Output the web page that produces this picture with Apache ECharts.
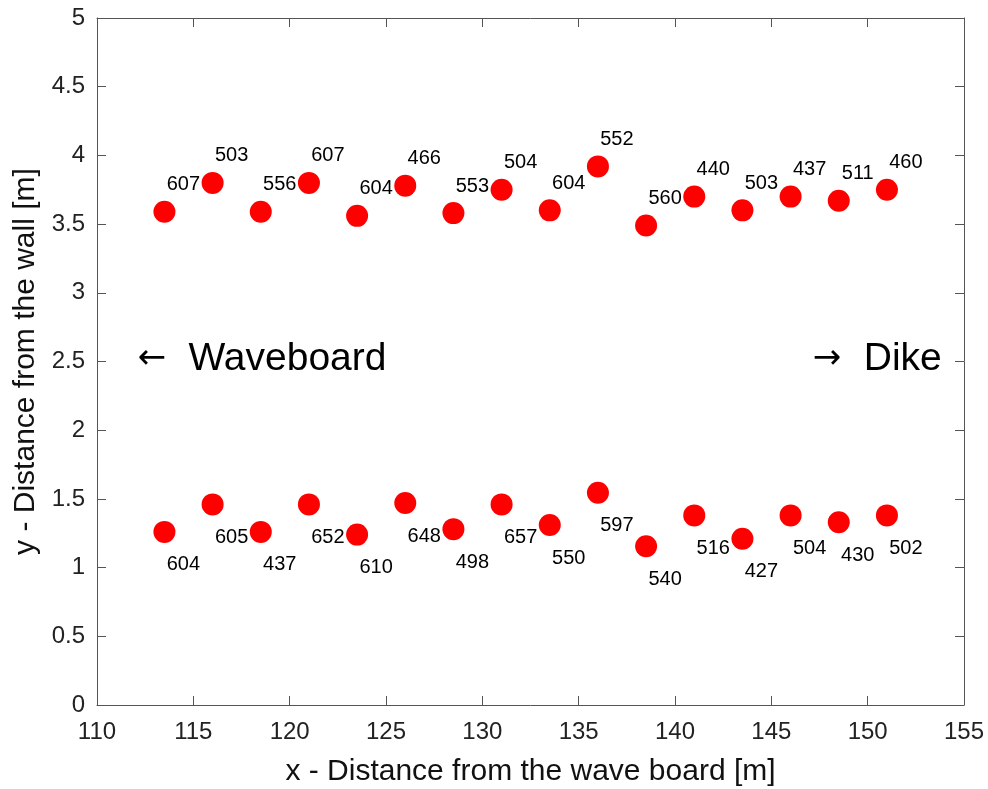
<!DOCTYPE html>
<html>
<head>
<meta charset="utf-8">
<script src="https://cdn.jsdelivr.net/npm/echarts@6/dist/echarts.min.js"></script>
<style>html,body{margin:0;padding:0;background:#fff;}#c{width:988px;height:789px;}</style>
</head>
<body>
<div id="c"></div>
<script>
var xPos = [113.5, 116, 118.5, 121, 123.5, 126, 128.5, 131, 133.5, 136, 138.5, 141, 143.5, 146, 148.5, 151];
var topY = [3.59, 3.80, 3.59, 3.80, 3.56, 3.78, 3.58, 3.75, 3.60, 3.92, 3.49, 3.70, 3.60, 3.70, 3.67, 3.75];
var topLabels = ['607', '503', '556', '607', '604', '466', '553', '504', '604', '552', '560', '440', '503', '437', '511', '460'];
var botY = [1.26, 1.46, 1.26, 1.46, 1.24, 1.47, 1.28, 1.46, 1.31, 1.545, 1.155, 1.38, 1.21, 1.38, 1.33, 1.38];
var botLabels = ['604', '605', '437', '652', '610', '648', '498', '657', '550', '597', '540', '516', '427', '504', '430', '502'];
var annotX = [112.1, 147.15];
var annotY = [2.52, 2.52];
var annotArrow = ['\u2190', '\u2192'];
var annotText = ['Waveboard', 'Dike'];

var FONT = 'Liberation Sans, Arial, sans-serif';
function pts(ys, labs) { return xPos.map(function (x, i) { return [x, ys[i], labs[i]]; }); }

var chart = echarts.init(document.getElementById('c'));
var axisCommon = {
  axisLine: { show: true, onZero: false, lineStyle: { color: '#555', width: 1 } },
  axisTick: { show: true, inside: true, length: 9, lineStyle: { color: '#555' } },
  splitLine: { show: false }
};
chart.setOption({
  animation: false,
  backgroundColor: '#fff',
  grid: { left: 97, right: 24, top: 18, bottom: 84, outerBoundsMode: 'none', containLabel: false },
  xAxis: [
    Object.assign({}, axisCommon, {
      type: 'value', min: 110, max: 155, interval: 5, position: 'bottom',
      axisLabel: { color: '#222', fontSize: 24, fontFamily: FONT, margin: 15 },
      name: 'x - Distance from the wave board [m]', nameLocation: 'middle', nameGap: 52,
      nameTextStyle: { color: '#111', fontSize: 30, fontFamily: FONT }
    }),
    Object.assign({}, axisCommon, {
      type: 'value', min: 110, max: 155, interval: 5, position: 'top', axisLabel: { show: false }
    })
  ],
  yAxis: [
    Object.assign({}, axisCommon, {
      type: 'value', min: 0, max: 5, interval: 0.5, position: 'left',
      axisLabel: { color: '#222', fontSize: 24, fontFamily: FONT, margin: 12 },
      name: 'y - Distance from the wall [m]', nameLocation: 'middle', nameGap: 50,
      nameTextStyle: { color: '#111', fontSize: 30, fontFamily: FONT }
    }),
    Object.assign({}, axisCommon, {
      type: 'value', min: 0, max: 5, interval: 0.5, position: 'right', axisLabel: { show: false }
    })
  ],
  series: [
    {
      type: 'scatter', data: pts(topY, topLabels), symbol: 'circle', symbolSize: 22,
      itemStyle: { color: '#ff0000', opacity: 1 },
      label: { show: true, position: 'inside', offset: [19, -27], color: '#000', fontSize: 20, fontFamily: FONT,
        formatter: function (p) { return p.value[2]; } }
    },
    {
      type: 'scatter', data: pts(botY, botLabels), symbol: 'circle', symbolSize: 22,
      itemStyle: { color: '#ff0000', opacity: 1 },
      label: { show: true, position: 'inside', offset: [19, 33], color: '#000', fontSize: 20, fontFamily: FONT,
        formatter: function (p) { return p.value[2]; } }
    },
    {
      type: 'scatter', symbolSize: 0, silent: true,
      itemStyle: { opacity: 1 },
      data: annotX.map(function (x, i) { return [x, annotY[i], annotArrow[i], annotText[i]]; }),
      label: { show: true, position: 'inside', align: 'left', color: '#000',
        formatter: function (p) { return '{a|' + p.value[2] + '}{t|' + p.value[3] + '}'; },
        rich: {
          a: { fontFamily: 'DejaVu Sans', fontSize: 34, width: 51, color: '#000' },
          t: { fontFamily: FONT, fontSize: 39, color: '#000' }
        }
      }
    }
  ]
});
</script>
</body>
</html>
